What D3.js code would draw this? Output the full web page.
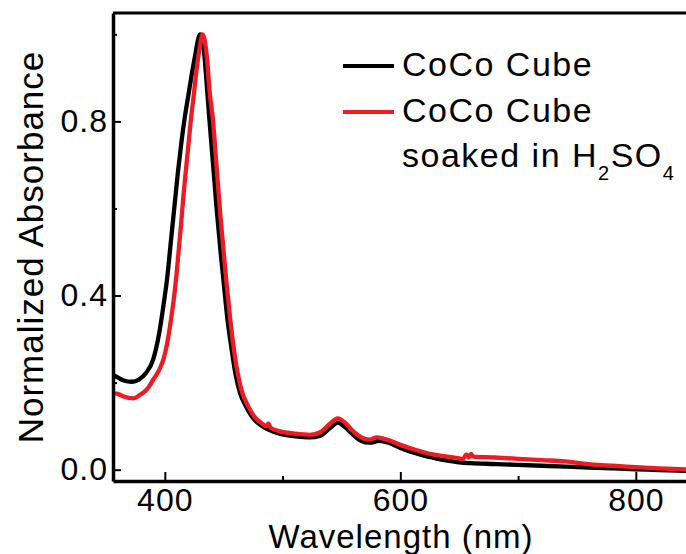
<!DOCTYPE html>
<html>
<head>
<meta charset="utf-8">
<script src="https://cdn.jsdelivr.net/npm/d3@7"></script>
<style>
  body { margin: 0; background: #fff; }
  svg text { font-family: "Liberation Sans", Arial, Helvetica, sans-serif; fill: #000; }
</style>
</head>
<body>
<div id="chart"></div>
<script>
// wavelengths (nm) and normalized absorbance
var blackWl = [356, 360, 365, 372, 378, 384, 390, 395, 399, 402, 405, 408, 411, 414, 417, 420, 423, 426, 428, 430,
    432, 434, 436, 438, 441, 444, 447, 450, 453, 456, 460, 464, 469, 475, 481, 488, 498, 510, 523, 532,
    540, 547, 553, 560, 567, 574, 582, 590, 600, 610, 620, 630, 640, 650, 660, 680, 700, 720, 740, 760,
    780, 800, 820, 846];
var blackAbs = [0.218, 0.212, 0.205, 0.202, 0.207, 0.222, 0.252, 0.31, 0.38, 0.44, 0.52, 0.60, 0.68, 0.75, 0.81, 0.86, 0.91, 0.955, 0.985, 1.0,
    0.99, 0.94, 0.87, 0.80, 0.70, 0.60, 0.51, 0.43, 0.35, 0.29, 0.22, 0.175, 0.145, 0.118, 0.103, 0.092, 0.082, 0.077, 0.074, 0.078,
    0.095, 0.108, 0.098, 0.080, 0.066, 0.062, 0.066, 0.062, 0.050, 0.040, 0.032, 0.026, 0.021, 0.017, 0.015, 0.013, 0.011, 0.009, 0.007, 0.005,
    0.003, 0.001, -0.001, -0.003];

var redWl = [356, 360, 365, 373, 379, 385, 390, 395, 399, 402, 405, 408, 410, 412, 414, 416, 418, 420, 422, 425,
    427, 430, 432, 434, 436, 438, 441, 443, 445, 447, 449, 452, 455, 458, 462, 466, 470, 476, 482, 486,
    488, 490, 498, 510, 523, 532, 540, 547, 553, 560, 567, 574, 580, 585, 592, 600, 610, 620, 630, 640,
    650, 653, 656, 658, 660, 662, 680, 700, 720, 740, 760, 780, 800, 820, 846];
var redAbs = [0.176, 0.174, 0.168, 0.164, 0.172, 0.185, 0.206, 0.228, 0.255, 0.29, 0.34, 0.40, 0.45, 0.51, 0.57, 0.635, 0.69, 0.745, 0.80, 0.87,
    0.92, 0.975, 1.0, 0.985, 0.94, 0.87, 0.80, 0.73, 0.66, 0.59, 0.53, 0.44, 0.36, 0.29, 0.22, 0.175, 0.15, 0.122, 0.107, 0.100,
    0.106, 0.096, 0.088, 0.083, 0.080, 0.086, 0.105, 0.118, 0.108, 0.088, 0.074, 0.069, 0.074, 0.072, 0.066, 0.057, 0.048, 0.040, 0.034, 0.030,
    0.026, 0.024, 0.035, 0.028, 0.036, 0.030, 0.028, 0.025, 0.022, 0.019, 0.013, 0.009, 0.006, 0.003, 0.000];

var xMajorTicks = [400, 600, 800];
var xMinorTicks = [500, 700];
var yMajorTicks = [0.0, 0.4, 0.8];
var yMinorTicks = [0.2, 0.6, 1.0];

var seriesNames = ["CoCo Cube", "CoCo Cube"];
var seriesColors = ["#000000", "#ed1c24"];

var width = 686, height = 554;
var margin = { top: 13, right: -4, bottom: 73, left: 113 };

var svg = d3.select("#chart").append("svg")
    .attr("width", width)
    .attr("height", height);

var xScale = d3.scaleLinear()
    .domain([356, 846])
    .range([margin.left, width - margin.right]);

var yScale = d3.scaleLinear()
    .domain([-0.026, 1.049])
    .range([height - margin.bottom, margin.top]);

svg.append("clipPath").attr("id", "plotClip")
    .append("rect")
    .attr("x", margin.left)
    .attr("y", margin.top)
    .attr("width", width - margin.right - margin.left)
    .attr("height", height - margin.bottom - margin.top);

//curves
var line = d3.line()
    .x(function (d) { return xScale(d[0]); })
    .y(function (d) { return yScale(d[1]); })
    .curve(d3.curveMonotoneX);

var series = [d3.zip(blackWl, blackAbs), d3.zip(redWl, redAbs)];

svg.append("g")
    .attr("clip-path", "url(#plotClip)")
    .selectAll("path")
    .data(series)
    .enter()
    .append("path")
    .attr("d", line)
    .attr("fill", "none")
    .attr("stroke", function (d, i) { return seriesColors[i]; })
    .attr("stroke-width", 4.3)
    .attr("stroke-linejoin", "round");

//top frame line
svg.append("line")
    .attr("x1", margin.left).attr("x2", width - margin.right)
    .attr("y1", margin.top).attr("y2", margin.top)
    .attr("stroke", "#000").attr("stroke-width", 3);

//x axis, ticks pointing inward
svg.append("g")
    .attr("transform", "translate(0," + (height - margin.bottom) + ")")
    .call(d3.axisBottom(xScale).tickValues(xMajorTicks).tickSizeInner(-9).tickSizeOuter(0).tickPadding(7));
svg.append("g")
    .attr("transform", "translate(0," + (height - margin.bottom) + ")")
    .call(d3.axisBottom(xScale).tickValues(xMinorTicks).tickSizeInner(-5).tickSizeOuter(0).tickFormat(""))
    .select(".domain").remove();

//y axis
svg.append("g")
    .attr("transform", "translate(" + margin.left + ",0)")
    .call(d3.axisLeft(yScale).tickValues(yMajorTicks).tickSizeInner(-8).tickSizeOuter(0).tickPadding(5).tickFormat(d3.format(".1f")));
svg.append("g")
    .attr("transform", "translate(" + margin.left + ",0)")
    .call(d3.axisLeft(yScale).tickValues(yMinorTicks).tickSizeInner(-4).tickSizeOuter(0).tickFormat(""))
    .select(".domain").remove();

svg.selectAll(".domain").attr("stroke-width", 3.5);
svg.selectAll(".tick line").attr("stroke-width", 2);
svg.selectAll(".tick text")
    .style("font-size", "32px")
    .style("letter-spacing", "1px")
    .style("font-family", "'Liberation Sans', Arial, sans-serif");

//axis titles
svg.append("text")
    .attr("x", 401)
    .attr("y", 548)
    .attr("text-anchor", "middle")
    .style("font-size", "33px")
    .style("letter-spacing", "1px")
    .text("Wavelength (nm)");

svg.append("text")
    .attr("transform", "translate(43,247) rotate(-90)")
    .attr("text-anchor", "middle")
    .style("font-size", "35px")
    .style("letter-spacing", "1px")
    .text("Normalized Absorbance");

//legend
var legend = svg.append("g");
var legendY = [66, 112];
legend.selectAll("line")
    .data(seriesColors)
    .enter()
    .append("line")
    .attr("x1", 343).attr("x2", 394)
    .attr("y1", function (d, i) { return legendY[i]; })
    .attr("y2", function (d, i) { return legendY[i]; })
    .attr("stroke", function (d) { return d; })
    .attr("stroke-width", 4);

legend.selectAll("text.name")
    .data(seriesNames)
    .enter()
    .append("text")
    .attr("class", "name")
    .attr("x", 402)
    .attr("y", function (d, i) { return legendY[i] + 10; })
    .style("font-size", "34px")
    .style("letter-spacing", "1.5px")
    .text(function (d) { return d; });

var soaked = legend.append("text")
    .attr("x", 402)
    .attr("y", 167)
    .style("font-size", "34px")
    .style("letter-spacing", "1.5px");
soaked.append("tspan").text("soaked in H");
soaked.append("tspan").attr("dy", 13).style("font-size", "20px").text("2");
soaked.append("tspan").attr("dy", -13).text("SO");
soaked.append("tspan").attr("dy", 13).style("font-size", "20px").text("4");
</script>
</body>
</html>
